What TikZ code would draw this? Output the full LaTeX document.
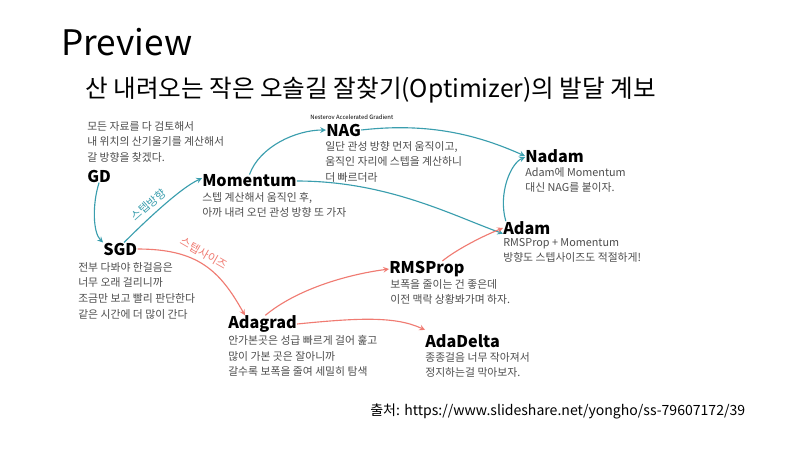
\documentclass[tikz,border=0pt]{standalone}
\usepackage{fontspec}
\setmainfont{Noto Sans CJK KR}
\definecolor{stepdir}{HTML}{3A9EAE}
\definecolor{stepsize}{HTML}{F07B72}
\definecolor{descgray}{HTML}{4D4D4D}
\tikzset{
  optname/.style={anchor=west, inner sep=0pt, font=\bfseries\fontsize{11.5}{14}\selectfont},
  optdesc/.style={anchor=north west, inner sep=0pt, align=left, text=descgray, font=\fontsize{7.7}{11.1}\selectfont},
  dirline/.style={->, draw=stepdir, line width=0.8pt},
  sizeline/.style={->, draw=stepsize, line width=0.8pt},
}
\begin{document}
\begin{tikzpicture}[x=0.025cm, y=-0.025cm, >=stealth]
\useasboundingbox[fill=white] (0,0) rectangle (800,450);

% Titles
\node[anchor=west, inner sep=0pt, font=\fontsize{25}{30}\selectfont] (preview) at (61,42) {Preview};
\node[anchor=west, inner sep=0pt, font=\fontsize{17.5}{21}\selectfont] (title) at (85,90) {산 내려오는 작은 오솔길 잘찾기(Optimizer)의 발달 계보};

% Optimizers
\node[optname] (GD) at (87,176) {GD};
\node[optname] (SGD) at (103,249) {SGD};
\node[optname] (Momentum) at (202,181) {Momentum};
\node[optname] (NAG) at (326,130) {NAG};
\node[optname] (Nadam) at (525,156) {Nadam};
\node[optname] (Adam) at (503,228) {Adam};
\node[optname] (RMSProp) at (389,269) {RMSProp};
\node[optname] (Adagrad) at (228,324) {Adagrad};
\node[optname] (AdaDelta) at (425,341) {AdaDelta};
\node[anchor=west, inner sep=0pt, font=\fontsize{4.2}{5}\selectfont] (nesterov) at (310,117) {Nesterov Accelerated Gradient};

% Descriptions
\node[optdesc] (GDtext) at (87,121) {모든 자료를 다 검토해서\\내 위치의 산기울기를 계산해서\\갈 방향을 찾겠다.};
\node[optdesc] (SGDtext) at (78,262) {전부 다봐야 한걸음은\\너무 오래 걸리니까\\조금만 보고 빨리 판단한다\\같은 시간에 더 많이 간다};
\node[optdesc] (Momtext) at (202,192) {스텝 계산해서 움직인 후,\\아까 내려 오던 관성 방향 또 가자};
\node[optdesc] (NAGtext) at (325,141) {일단 관성 방향 먼저 움직이고,\\움직인 자리에 스텝을 계산하니\\더 빠르더라};
\node[optdesc] (Nadamtext) at (525,167) {Adam에 Momentum\\대신 NAG를 붙이자.};
\node[optdesc] (Adamtext) at (503,238) {RMSProp + Momentum\\방향도 스텝사이즈도 적절하게!};
\node[optdesc] (RMStext) at (390,279) {보폭을 줄이는 건 좋은데\\이전 맥락 상황봐가며 하자.};
\node[optdesc] (Adagradtext) at (228,335) {안가본곳은 성급 빠르게 걸어 훑고\\많이 가본 곳은 잘아니까\\갈수록 보폭을 줄여 세밀히 탐색};
\node[optdesc] (AdaDeltatext) at (425,352) {종종걸음 너무 작아져서\\정지하는걸 막아보자.};

% Source
\node[anchor=west, inner sep=0pt, font=\fontsize{10}{12}\selectfont] (source) at (370,411) {출처: https://www.slideshare.net/yongho/ss-79607172/39};

% Step direction arrows
\draw[dirline] (GD.south) .. controls +(-7,22) and +(-10,-10) .. (SGD.north west);
\draw[dirline] (SGD.60) .. controls +(20,-20) and +(-22,10) .. ([yshift=2pt]Momentum.west)
  node[pos=0.42, sloped, above, text=stepdir, font=\fontsize{8}{10}\selectfont] {스텝방향};
\draw[dirline] (Momentum.north) .. controls +(10,-28) and +(-30,0) .. (NAG.west);
\draw[dirline] (NAG.east) .. controls +(70,-8) and +(-45,-20) .. (Nadam.west);
\draw[dirline] (Momentum.east) .. controls +(90,0) and +(-50,-18) .. ([yshift=-4pt]Adam.west);
\draw[dirline] ([xshift=2pt]Adam.north west) .. controls +(-8,-28) and +(-14,6) .. ([yshift=4pt]Nadam.south west);

% Step size arrows
\draw[sizeline] (SGD.east) .. controls +(60,0) and +(-25,-45) .. ([xshift=12pt]Adagrad.north west)
  node[pos=0.45, sloped, above, text=stepsize, font=\fontsize{8}{10}\selectfont] {스텝사이즈};
\draw[sizeline] ([xshift=2pt]Adagrad.north) .. controls +(30,-25) and +(-45,6) .. (RMSProp.west);
\draw[sizeline] (Adagrad.east) .. controls +(60,-6) and +(-30,-14) .. ([yshift=3pt]AdaDelta.north west);
\draw[sizeline] ([xshift=11pt]RMSProp.north) .. controls +(15,-12) and +(-20,8) .. (Adam.west);
\end{tikzpicture}
\end{document}
